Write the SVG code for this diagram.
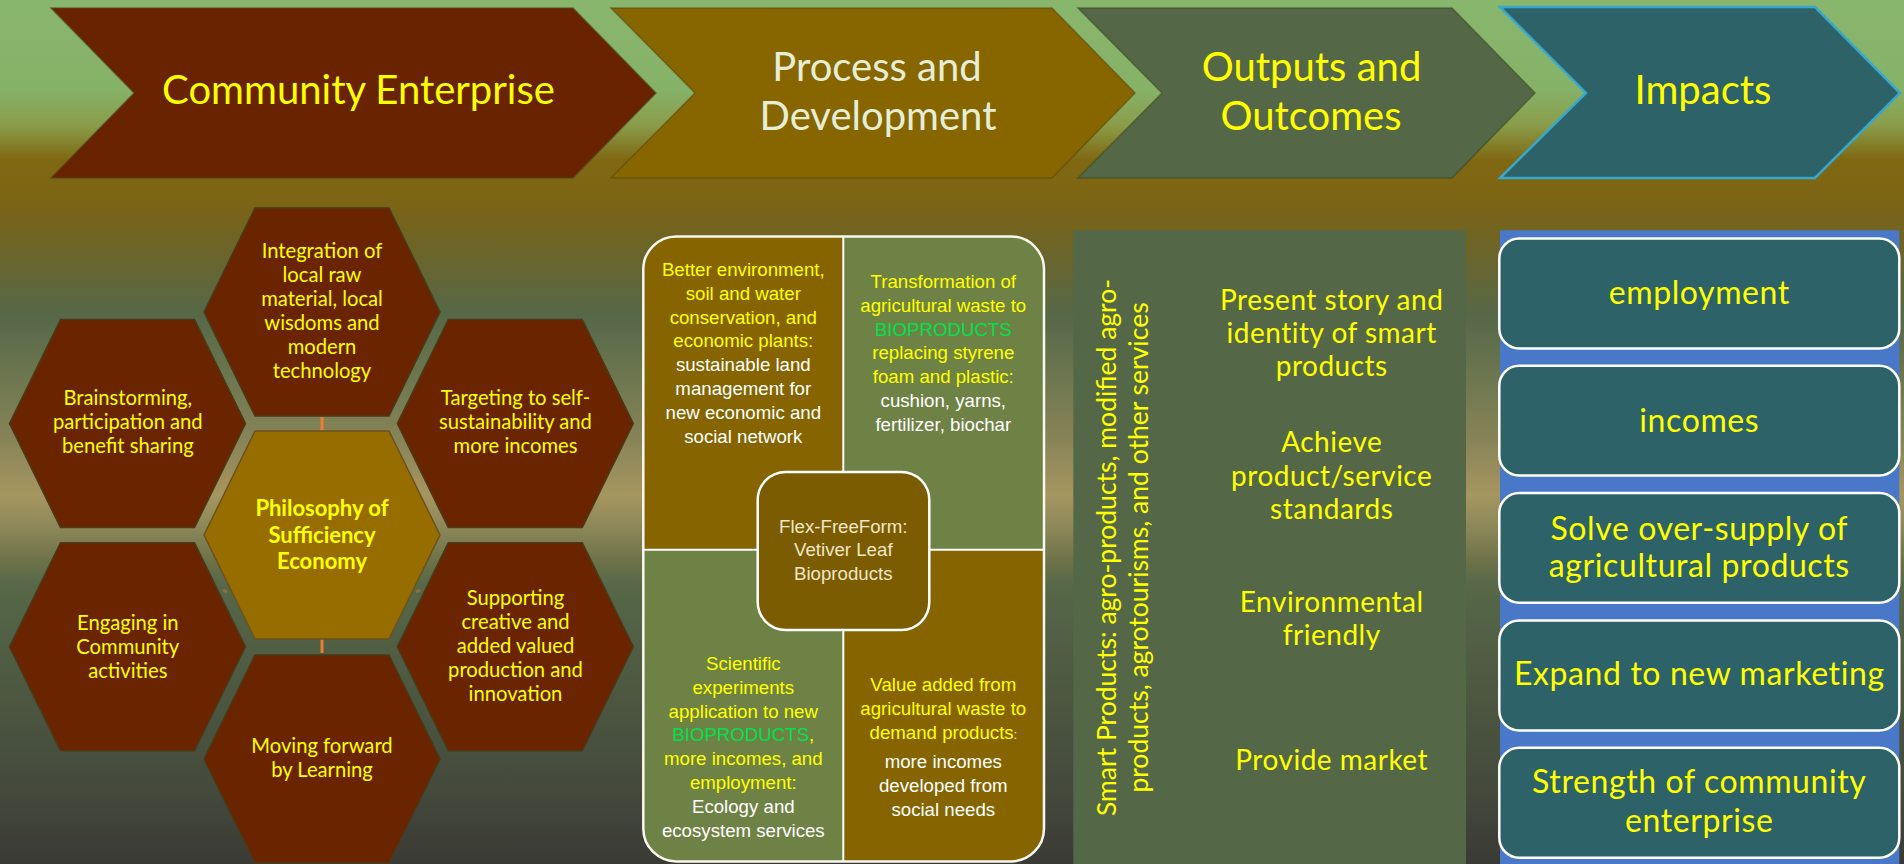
<svg xmlns="http://www.w3.org/2000/svg" xmlns:xlink="http://www.w3.org/1999/xlink" width="1904" height="864" viewBox="0 0 1904 864">
<defs>
<linearGradient id="bg" x1="0" y1="0" x2="0" y2="1">
<stop offset="0" stop-color="#88b66c"/>
<stop offset="0.104" stop-color="#86b268"/>
<stop offset="0.145" stop-color="#8a9c4a"/>
<stop offset="0.185" stop-color="#806812"/>
<stop offset="0.231" stop-color="#7c6414"/>
<stop offset="0.289" stop-color="#6c6428"/>
<stop offset="0.365" stop-color="#566848"/>
<stop offset="0.446" stop-color="#707850"/>
<stop offset="0.51" stop-color="#888458"/>
<stop offset="0.573" stop-color="#a69660"/>
<stop offset="0.613" stop-color="#8a8658"/>
<stop offset="0.648" stop-color="#6e7248"/>
<stop offset="0.677" stop-color="#566848"/>
<stop offset="0.81" stop-color="#4c5640"/>
<stop offset="0.914" stop-color="#444a3c"/>
<stop offset="1" stop-color="#3a3a35"/>
</linearGradient>
<polygon id="hex" points="-118,0 -67,-104 67,-104 118,0 67,104 -67,104"/>
<clipPath id="pclip"><rect x="643.3" y="236.4" width="400.7" height="625" rx="33"/></clipPath>
<style>
.hx{fill:#6b2400;stroke:#4a3a18;stroke-width:1.5}
.hc{fill:#986d00;stroke:#6a5220;stroke-width:1.5}
.ht{font-family:Lato,"Open Sans",sans-serif;font-size:20.2px;fill:#ffff00;text-anchor:middle}
.hb{font-family:Lato,"Open Sans",sans-serif;font-size:22px;font-weight:bold;fill:#ffff00;text-anchor:middle}
.hd{font-family:Lato,"Open Sans",sans-serif;font-size:40px;text-anchor:middle}
.pt{font-family:"Liberation Sans",Arial,sans-serif;font-size:18.67px;text-anchor:middle}
.ot{font-family:Lato,"Open Sans",sans-serif;font-size:28px;letter-spacing:0.5px;fill:#ffff00;text-anchor:middle}
.rt{font-family:Lato,"Open Sans",sans-serif;font-size:26.5px;fill:#ffff00;text-anchor:middle}
.it{font-family:Lato,"Open Sans",sans-serif;font-size:32px;letter-spacing:0.6px;fill:#ffff00;text-anchor:middle}
.y{fill:#ffff00}.w{fill:#ffffff}.g{fill:#00e050}
.gold{fill:#866500}.grn{fill:#6f8245}
.ib{fill:#2d6268;stroke:#ffffff;stroke-width:2.5}
.con{stroke:#ed7d31;stroke-width:3;fill:none}
</style>
</defs>
<rect x="0" y="0" width="1904" height="864" fill="url(#bg)"/>

<!-- header chevrons -->
<g id="chev-community">
<polygon points="51,8 573,8 656,93 573,178 51,178 134,93" fill="#6a2300" stroke="#4a4a20" stroke-width="1.5" stroke-opacity="0.6"/>
<text class="hd y" x="358.5" y="104" font-size="41">Community Enterprise</text>
</g>
<g id="chev-process">
<polygon points="611,8 1052,8 1135,93 1052,178 611,178 695,93" fill="#876600" stroke="#5a4a10" stroke-width="1.5" stroke-opacity="0.6"/>
<text class="hd" fill="#e6eed6" x="877" y="81">Process and</text>
<text class="hd" fill="#e6eed6" x="878" y="130">Development</text>
</g>
<g id="chev-outputs">
<polygon points="1078,8 1452,8 1535,93 1452,178 1078,178 1162,93" fill="#546848" stroke="#3a4a20" stroke-width="1.5" stroke-opacity="0.6"/>
<text class="hd y" x="1311.5" y="81">Outputs and</text>
<text class="hd y" x="1311" y="130">Outcomes</text>
</g>
<g id="chev-impacts">
<polygon points="1500,7 1815,7 1900,93 1815,178 1500,178 1586,93" fill="#2d6268" stroke="#38a8cc" stroke-width="2.5"/>
<text class="hd y" x="1703" y="104">Impacts</text>
</g>

<!-- connectors -->
<g id="connectors">
<line class="con" x1="322" y1="417" x2="322" y2="431" stroke-width="2.5"/>
<line class="con" x1="322" y1="639" x2="322" y2="653" stroke-width="2.5"/>
<line class="con" x1="223" y1="481" x2="227" y2="479" stroke-width="2" stroke-opacity="0.4"/>
<line class="con" x1="415" y1="479" x2="419" y2="481" stroke-width="2" stroke-opacity="0.4"/>
<line class="con" x1="223" y1="590" x2="227" y2="592" stroke-width="2" stroke-opacity="0.4"/>
<line class="con" x1="416" y1="592" x2="420" y2="590" stroke-width="2" stroke-opacity="0.4"/>
<path class="con" d="M1208,333 H1185 V763 H1208 M1185,476.7 H1208 M1185,619.2 H1208 M1161.7,547.7 H1185"/>
</g>

<!-- hexagons -->
<g id="hex-center">
<use xlink:href="#hex" href="#hex" class="hc" transform="translate(322,535)"/>
<text class="hb" x="322" y="516">Philosophy of</text>
<text class="hb" x="322" y="543">Sufficiency</text>
<text class="hb" x="322" y="569">Economy</text>
</g>
<g id="hex-top">
<use xlink:href="#hex" href="#hex" class="hx" transform="translate(322,312)"/>
<text class="ht" x="322" y="257.5">Integration of</text>
<text class="ht" x="322" y="281.5">local raw</text>
<text class="ht" x="322" y="305.5">material, local</text>
<text class="ht" x="322" y="329.5">wisdoms and</text>
<text class="ht" x="322" y="353.5">modern</text>
<text class="ht" x="322" y="377.5">technology</text>
</g>
<g id="hex-upper-left">
<use xlink:href="#hex" href="#hex" class="hx" transform="translate(127.5,423.6)"/>
<text class="ht" x="127.8" y="405">Brainstorming,</text>
<text class="ht" x="127.8" y="429">participation and</text>
<text class="ht" x="127.8" y="453">benefit sharing</text>
</g>
<g id="hex-upper-right">
<use xlink:href="#hex" href="#hex" class="hx" transform="translate(515.3,423.6)"/>
<text class="ht" x="515.5" y="405">Targeting to self-</text>
<text class="ht" x="515.5" y="429">sustainability and</text>
<text class="ht" x="515.5" y="453">more incomes</text>
</g>
<g id="hex-lower-left">
<use xlink:href="#hex" href="#hex" class="hx" transform="translate(127.5,646.8)"/>
<text class="ht" x="127.8" y="629.5">Engaging in</text>
<text class="ht" x="127.8" y="653.5">Community</text>
<text class="ht" x="127.8" y="677.5">activities</text>
</g>
<g id="hex-lower-right">
<use xlink:href="#hex" href="#hex" class="hx" transform="translate(515.3,646.8)"/>
<text class="ht" x="515.5" y="605">Supporting</text>
<text class="ht" x="515.5" y="629">creative and</text>
<text class="ht" x="515.5" y="653">added valued</text>
<text class="ht" x="515.5" y="677">production and</text>
<text class="ht" x="515.5" y="701">innovation</text>
</g>
<g id="hex-bottom">
<use xlink:href="#hex" href="#hex" class="hx" transform="translate(322,759)"/>
<text class="ht" x="322" y="753">Moving forward</text>
<text class="ht" x="322" y="777">by Learning</text>
</g>

<!-- process panel -->
<g id="process-panel">
<g clip-path="url(#pclip)">
<rect class="gold" x="643.3" y="236.4" width="200" height="313.4"/>
<rect class="grn" x="843.3" y="236.4" width="200.7" height="313.4"/>
<rect class="grn" x="643.3" y="549.8" width="200" height="311.6"/>
<rect class="gold" x="843.3" y="549.8" width="200.7" height="311.6"/>
</g>
<line x1="843.3" y1="236.4" x2="843.3" y2="861.4" stroke="#ffffff" stroke-width="2"/>
<line x1="643.3" y1="549.8" x2="1044" y2="549.8" stroke="#ffffff" stroke-width="2"/>
<rect x="643.3" y="236.4" width="400.7" height="625" rx="33" fill="none" stroke="#f8f8f0" stroke-width="2.5"/>
</g>
<g id="quad-environment">
<text class="pt y" x="743.3" y="276">Better environment,</text>
<text class="pt y" x="743.3" y="299.8">soil and water</text>
<text class="pt y" x="743.3" y="323.6">conservation, and</text>
<text class="pt y" x="743.3" y="347.4">economic plants:</text>
<text class="pt w" x="743.3" y="371.2">sustainable land</text>
<text class="pt w" x="743.3" y="395">management for</text>
<text class="pt w" x="743.3" y="418.8">new economic and</text>
<text class="pt w" x="743.3" y="442.6">social network</text>
</g>
<g id="quad-transformation">
<text class="pt y" x="943.3" y="288">Transformation of</text>
<text class="pt y" x="943.3" y="311.8">agricultural waste to</text>
<text class="pt g" x="943.3" y="335.6">BIOPRODUCTS</text>
<text class="pt y" x="943.3" y="359.4">replacing styrene</text>
<text class="pt y" x="943.3" y="383.2">foam and plastic:</text>
<text class="pt w" x="943.3" y="407">cushion, yarns,</text>
<text class="pt w" x="943.3" y="430.8">fertilizer, biochar</text>
</g>
<g id="quad-scientific">
<text class="pt y" x="743.3" y="670">Scientific</text>
<text class="pt y" x="743.3" y="693.8">experiments</text>
<text class="pt y" x="743.3" y="717.6">application to new</text>
<text class="pt y" x="743.3" y="741.4"><tspan class="g">BIOPRODUCTS</tspan>,</text>
<text class="pt y" x="743.3" y="765.2">more incomes, and</text>
<text class="pt y" x="743.3" y="789">employment:</text>
<text class="pt w" x="743.3" y="812.8">Ecology and</text>
<text class="pt w" x="743.3" y="836.6">ecosystem services</text>
</g>
<g id="quad-value">
<text class="pt y" x="943.3" y="690.5">Value added from</text>
<text class="pt y" x="943.3" y="715">agricultural waste to</text>
<text class="pt y" x="943.3" y="739">demand products<tspan class="w" font-size="12">:</tspan></text>
<text class="pt w" x="943.3" y="767.8">more incomes</text>
<text class="pt w" x="943.3" y="792">developed from</text>
<text class="pt w" x="943.3" y="815.8">social needs</text>
</g>
<g id="flex-freeform">
<rect x="757.7" y="472" width="171.6" height="158" rx="28" fill="#7c5c00" stroke="#ffffff" stroke-width="2.5"/>
<text class="pt" fill="#f0e6c8" x="843.3" y="532.5">Flex-FreeForm:</text>
<text class="pt" fill="#f0e6c8" x="843.3" y="556.3">Vetiver Leaf</text>
<text class="pt" fill="#f0e6c8" x="843.3" y="580.1">Bioproducts</text>
</g>

<!-- outputs panel -->
<g id="outputs-panel">
<rect x="1073.3" y="230.3" width="392.7" height="640" fill="#546848"/>
<text class="rt" transform="translate(1116,547.5) rotate(-90)" x="0" y="0">Smart Products: agro-products, modified agro-</text>
<text class="rt" transform="translate(1148,547.5) rotate(-90)" x="0" y="0">products, agrotourisms, and other services</text>
</g>
<g id="out-story">
<text class="ot" x="1331.7" y="309.5">Present story and</text>
<text class="ot" x="1331.7" y="343">identity of smart</text>
<text class="ot" x="1331.7" y="376">products</text>
</g>
<g id="out-standards">
<text class="ot" x="1331.7" y="452.4">Achieve</text>
<text class="ot" x="1331.7" y="486">product/service</text>
<text class="ot" x="1331.7" y="519">standards</text>
</g>
<g id="out-environment">
<text class="ot" x="1331.7" y="612">Environmental</text>
<text class="ot" x="1331.7" y="645">friendly</text>
</g>
<g id="out-market">
<text class="ot" x="1331.7" y="770.3">Provide market</text>
</g>

<!-- impacts panel -->
<rect id="impacts-panel" x="1500" y="230.3" width="399.3" height="640" fill="#4a78c8"/>
<g id="imp-employment">
<rect class="ib" x="1499.3" y="238.5" width="400" height="110" rx="20"/>
<text class="it" x="1699.3" y="304">employment</text>
</g>
<g id="imp-incomes">
<rect class="ib" x="1499.3" y="365.8" width="400" height="109.6" rx="20"/>
<text class="it" x="1699.3" y="431.5">incomes</text>
</g>
<g id="imp-oversupply">
<rect class="ib" x="1499.3" y="493" width="400" height="109.8" rx="20"/>
<text class="it" x="1699.3" y="539.5">Solve over-supply of</text>
<text class="it" x="1699.3" y="577.3">agricultural products</text>
</g>
<g id="imp-marketing">
<rect class="ib" x="1499.3" y="620.4" width="400" height="110.1" rx="20"/>
<text class="it" x="1699.3" y="685.3">Expand to new marketing</text>
</g>
<g id="imp-strength">
<rect class="ib" x="1499.3" y="747.7" width="400" height="110.1" rx="20"/>
<text class="it" x="1699.3" y="792.9">Strength of community</text>
<text class="it" x="1699.3" y="832">enterprise</text>
</g>
</svg>
